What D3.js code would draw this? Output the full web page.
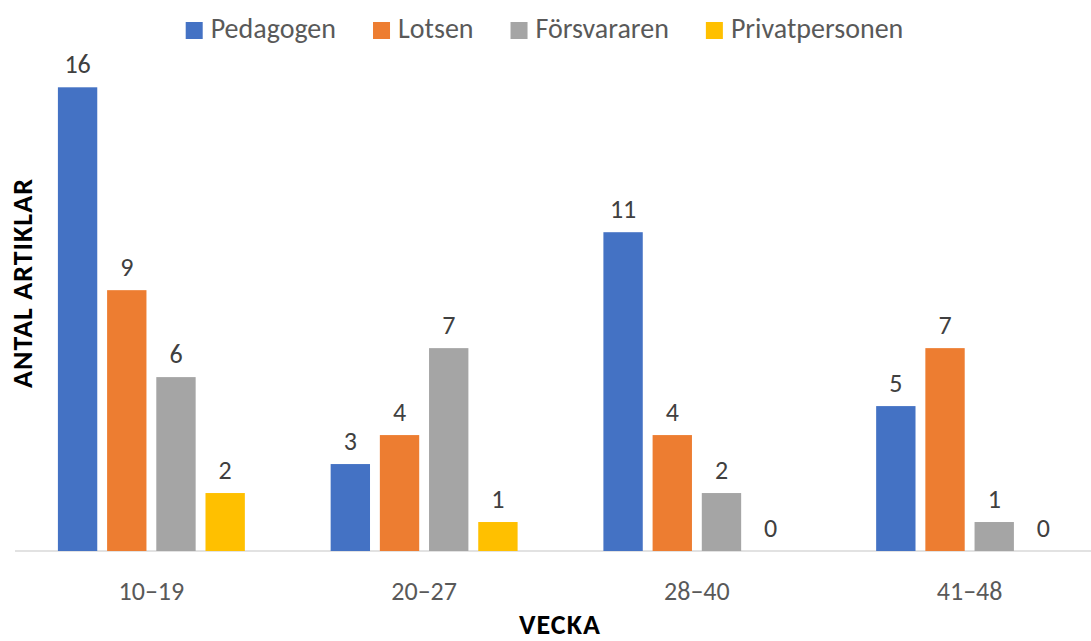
<!DOCTYPE html>
<html>
<head>
<meta charset="utf-8">
<script src="https://cdn.jsdelivr.net/npm/d3@7"></script>
<style>
  html, body { margin: 0; padding: 0; background: #fff; }
  svg { display: block; }
  text { font-family: Calibri, Carlito, Lato, sans-serif; }
</style>
</head>
<body>
<svg id="chart" width="1091" height="641"></svg>
<script>
const categories = ["10–19", "20–27", "28–40", "41–48"];
const seriesNames = ["Pedagogen", "Lotsen", "Försvararen", "Privatpersonen"];
const pedagogen = [16, 3, 11, 5];
const lotsen = [9, 4, 4, 7];
const forsvararen = [6, 7, 2, 1];
const privatpersonen = [2, 1, 0, 0];
const colors = ["#4472C4", "#ED7D31", "#A5A5A5", "#FFC000"];
const yMax = 16;

const seriesValues = [pedagogen, lotsen, forsvararen, privatpersonen];
const data = categories.map((c, i) => ({
  cat: c,
  vals: seriesNames.map((s, j) => ({ s, v: seriesValues[j][i], color: colors[j] }))
}));

const W = 1091, H = 641;
const svg = d3.select("#chart");
const FS_LBL = 26, FS_CAT = 26, FS_LEG = 28, FS_TITLE = 28;

const x0 = d3.scaleBand().domain(categories).range([15, 1106]).padding(0);
const x1 = d3.scaleBand().domain(seriesNames)
  .range([42.9, x0.bandwidth() - 42.9]).paddingInner(0.2).paddingOuter(0);
const y = d3.scaleLinear().domain([0, yMax]).range([551, 87.3]);

// axis line
svg.append("line")
  .attr("x1", 15).attr("x2", W)
  .attr("y1", y(0)).attr("y2", y(0))
  .attr("stroke", "#D9D9D9").attr("stroke-width", 1.5);

const g = svg.selectAll("g.grp").data(data).join("g")
  .attr("class", "grp")
  .attr("transform", d => `translate(${x0(d.cat)},0)`);

g.selectAll("rect").data(d => d.vals).join("rect")
  .attr("x", d => x1(d.s))
  .attr("width", x1.bandwidth())
  .attr("y", d => y(d.v))
  .attr("height", d => y(0) - y(d.v))
  .attr("fill", d => d.color);

g.selectAll("text.lbl").data(d => d.vals).join("text")
  .attr("class", "lbl")
  .attr("x", d => x1(d.s) + x1.bandwidth() / 2)
  .attr("y", d => y(d.v) - 14)
  .attr("text-anchor", "middle")
  .attr("font-size", FS_LBL)
  .attr("fill", "#404040")
  .text(d => d.v);

// category axis labels
const xAxis = d3.axisBottom(x0).tickSize(0).tickPadding(0);
const ax = svg.append("g").attr("transform", `translate(0,${y(0)})`).call(xAxis);
ax.select(".domain").remove();
ax.selectAll("text")
  .attr("font-size", FS_CAT)
  .attr("fill", "#595959")
  .attr("dy", null)
  .attr("y", 49)
  .style("font-family", "Calibri, Carlito, Lato, sans-serif");

// axis titles
svg.append("text")
  .attr("x", 560).attr("y", 634)
  .attr("text-anchor", "middle")
  .attr("font-size", FS_TITLE).attr("font-weight", "bold")
  .attr("letter-spacing", 1)
  .attr("fill", "#000")
  .text("VECKA");

svg.append("text")
  .attr("transform", "translate(32,283) rotate(-90)")
  .attr("text-anchor", "middle")
  .attr("font-size", FS_TITLE).attr("font-weight", "bold")
  .attr("letter-spacing", 1)
  .attr("fill", "#000")
  .text("ANTAL ARTIKLAR");

// legend
const legend = svg.append("g");
const items = legend.selectAll("g").data(seriesNames).join("g");
items.append("rect").attr("width", 17).attr("height", 17)
  .attr("y", -16).attr("fill", (d, i) => colors[i]);
items.append("text").attr("x", 25).attr("y", 0)
  .attr("font-size", FS_LEG).attr("fill", "#595959")
  .text(d => d);
let xpos = 0;
items.each(function() {
  const w = this.getBBox().width;
  d3.select(this).attr("transform", `translate(${xpos},0)`);
  xpos += w + 37;
});
const totalW = xpos - 37;
legend.attr("transform", `translate(${544.5 - totalW / 2},38)`);
</script>
</body>
</html>
